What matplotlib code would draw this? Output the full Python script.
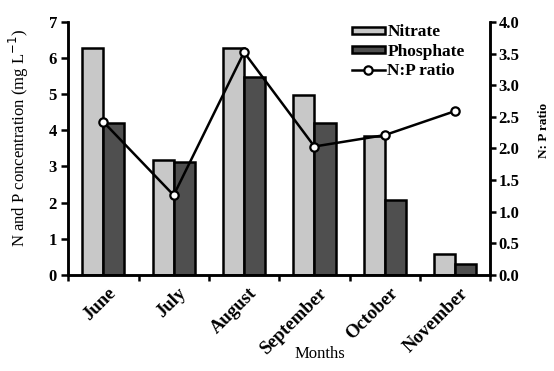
import matplotlib
matplotlib.use("Agg")
import matplotlib.pyplot as plt
import numpy as np

months = ["June", "July", "August", "September", "October", "November"]
nitrate = [6.28, 3.18, 6.27, 4.98, 3.83, 0.57]
phosphate = [4.2, 3.12, 5.47, 4.2, 2.07, 0.31]
np_ratio = [2.42, 1.26, 3.52, 2.03, 2.21, 2.59]

plt.rcParams['font.family'] = ['Liberation Serif', 'DejaVu Serif']
plt.rcParams['font.size'] = 12
plt.rcParams['axes.linewidth'] = 1.8

fig = plt.figure(figsize=(5.54, 3.71), dpi=100)
ax = fig.add_axes([0.123, 0.259, 0.762, 0.682])
ax2 = ax.twinx()

x = np.arange(len(months))
w = 0.3
b1 = ax.bar(x - w / 2, nitrate, w, color="#c8c8c8", edgecolor="black", linewidth=1.8, label="Nitrate")
b2 = ax.bar(x + w / 2, phosphate, w, color="#4f4f4f", edgecolor="black", linewidth=1.8, label="Phosphate")
l1, = ax2.plot(x, np_ratio, color="black", linewidth=1.8, marker="o", markersize=6,
               markerfacecolor="white", markeredgecolor="black", markeredgewidth=1.6, label="N:P ratio")

ax.set_xlim(-0.5, len(months) - 0.5)
ax.set_ylim(0, 7)
ax2.set_ylim(0, 4)
ax.set_yticks(range(0, 8))
ax2.set_yticks(np.arange(0, 4.01, 0.5))
ax2.set_yticklabels(["%.1f" % v for v in np.arange(0, 4.01, 0.5)])

# ticks between categories, labels near centers
ax.set_xticks(np.arange(-0.5, len(months), 1.0))
ax.set_xticklabels([])
ax.set_xticks(x + 0.06, minor=True)
ax.set_xticklabels(months, minor=True, rotation=45, ha="right", va="top",
                   rotation_mode="anchor", fontweight="bold", fontsize=13.5)
ax.tick_params(axis="x", which="minor", length=0, pad=7)
ax.tick_params(axis="x", which="major", length=4, width=1.8, direction="out")
ax.tick_params(axis="y", length=5, width=1.8, direction="out", pad=3)
ax2.tick_params(axis="y", length=4, width=1.8, direction="out", pad=2)
for lab in ax.get_yticklabels() + ax2.get_yticklabels():
    lab.set_fontweight("bold")

ax.spines["top"].set_visible(False)
ax2.spines["top"].set_visible(False)

ax.set_xlabel("Months")
ax.xaxis.set_label_coords(0.597, -0.28)
ax.set_ylabel("N and P concentration (mg L$^{-1}$)")
ax.yaxis.set_label_coords(-0.087, 0.54)
ax2.set_ylabel("N: P ratio", fontweight="bold", fontsize=9.5)
ax2.yaxis.set_label_coords(1.113, 0.57)

leg = ax2.legend([b1, b2, l1], ["Nitrate", "Phosphate", "N:P ratio"],
                 loc="upper left", bbox_to_anchor=(0.672, 0.99), frameon=False,
                 prop={"weight": "bold", "size": 12.5},
                 handlelength=1.9, handleheight=0.25, handletextpad=0.15,
                 labelspacing=0.2, borderpad=0, borderaxespad=0)

fig.savefig("out.png", dpi=100)
